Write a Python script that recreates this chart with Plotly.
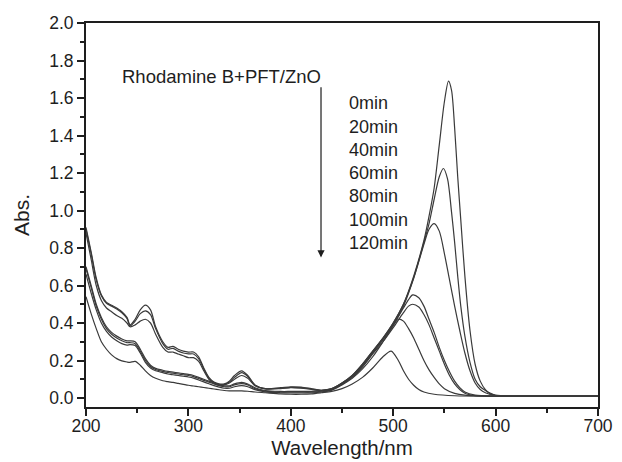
import plotly.graph_objects as go

# ---------------- data ----------------
times = ["0min", "20min", "40min", "60min", "80min", "100min", "120min"]

# shared UV part of the wavelength grid (nm)
wl_uv = [200, 205, 210, 215, 220, 225, 230, 235, 240, 243, 248, 253, 258, 263, 268,
         275, 280, 285, 290, 295, 300, 305, 310, 315, 320, 325, 330, 335, 340, 345,
         352, 358, 365, 375, 390, 400, 410, 420, 430]

abs_uv_0 = [0.91, 0.78, 0.64, 0.55, 0.51, 0.495, 0.48, 0.46, 0.43, 0.39, 0.42, 0.47, 0.495, 0.47, 0.38,
            0.30, 0.27, 0.275, 0.26, 0.25, 0.245, 0.245, 0.22, 0.16, 0.11, 0.085, 0.075, 0.075, 0.09, 0.12,
            0.145, 0.12, 0.07, 0.05, 0.055, 0.06, 0.058, 0.05, 0.042]
abs_uv_20 = [0.90, 0.77, 0.63, 0.545, 0.505, 0.49, 0.475, 0.455, 0.425, 0.385, 0.41, 0.45, 0.465, 0.445, 0.37,
             0.29, 0.26, 0.265, 0.25, 0.24, 0.235, 0.235, 0.21, 0.155, 0.105, 0.082, 0.072, 0.072, 0.085, 0.11,
             0.135, 0.115, 0.068, 0.05, 0.052, 0.057, 0.055, 0.048, 0.04]
abs_uv_40 = [0.88, 0.74, 0.60, 0.52, 0.48, 0.46, 0.44, 0.425, 0.40, 0.38, 0.39, 0.41, 0.42, 0.40, 0.34,
             0.27, 0.245, 0.245, 0.235, 0.225, 0.215, 0.215, 0.195, 0.145, 0.10, 0.08, 0.07, 0.07, 0.08, 0.10,
             0.12, 0.105, 0.065, 0.048, 0.05, 0.055, 0.052, 0.046, 0.04]
abs_uv_60 = [0.70, 0.60, 0.50, 0.43, 0.38, 0.35, 0.33, 0.315, 0.305, 0.305, 0.30, 0.26, 0.21, 0.175, 0.158,
             0.148, 0.142, 0.138, 0.134, 0.13, 0.126, 0.12, 0.11, 0.10, 0.09, 0.08, 0.07, 0.065, 0.065, 0.075,
             0.083, 0.075, 0.055, 0.04, 0.035, 0.035, 0.035, 0.035, 0.038]
abs_uv_80 = [0.69, 0.59, 0.49, 0.42, 0.37, 0.34, 0.32, 0.305, 0.295, 0.295, 0.29, 0.25, 0.20, 0.168, 0.152,
             0.142, 0.136, 0.132, 0.128, 0.124, 0.12, 0.114, 0.104, 0.094, 0.085, 0.075, 0.066, 0.06, 0.06, 0.07,
             0.077, 0.07, 0.05, 0.037, 0.032, 0.032, 0.032, 0.032, 0.036]
abs_uv_100 = [0.66, 0.56, 0.47, 0.40, 0.355, 0.325, 0.305, 0.29, 0.282, 0.285, 0.28, 0.24, 0.19, 0.16, 0.145,
              0.135, 0.128, 0.124, 0.12, 0.116, 0.112, 0.106, 0.096, 0.086, 0.076, 0.066, 0.058, 0.052, 0.052, 0.06,
              0.066, 0.06, 0.045, 0.033, 0.028, 0.027, 0.027, 0.028, 0.032]
abs_uv_120 = [0.54, 0.45, 0.37, 0.30, 0.26, 0.23, 0.21, 0.198, 0.192, 0.19, 0.195, 0.175, 0.145, 0.12, 0.105,
              0.092, 0.087, 0.083, 0.078, 0.073, 0.068, 0.064, 0.06, 0.056, 0.052, 0.048, 0.044, 0.04, 0.038, 0.038,
              0.038, 0.036, 0.032, 0.028, 0.022, 0.02, 0.02, 0.022, 0.028]

# visible part, per series
wl_vis_0 = [440, 450, 460, 470, 480, 490, 500, 510, 520, 530, 535, 540, 545, 550, 554, 557, 560, 563, 566, 570,
            575, 580, 585, 590, 595, 600, 620, 650, 700]
abs_vis_0 = [0.05, 0.08, 0.12, 0.18, 0.25, 0.32, 0.40, 0.50, 0.65, 0.84, 0.97, 1.12, 1.35, 1.58, 1.69, 1.64, 1.44,
             1.18, 0.95, 0.65, 0.36, 0.18, 0.09, 0.045, 0.022, 0.013, 0.01, 0.01, 0.01]

wl_vis_20 = [440, 450, 460, 470, 480, 490, 500, 510, 520, 530, 535, 540, 545, 549, 553, 557, 560, 563, 566, 570,
             575, 580, 585, 590, 595, 600, 620, 650, 700]
abs_vis_20 = [0.048, 0.078, 0.118, 0.175, 0.245, 0.315, 0.39, 0.49, 0.64, 0.83, 0.93, 1.06, 1.18, 1.224, 1.17,
              0.99, 0.83, 0.65, 0.49, 0.33, 0.19, 0.10, 0.06, 0.04, 0.025, 0.015, 0.01, 0.01, 0.01]

wl_vis_40 = [440, 450, 460, 470, 480, 490, 500, 510, 520, 530, 535, 540, 545, 550, 555, 560, 565, 570, 575, 580,
             585, 590, 600, 620, 650, 700]
abs_vis_40 = [0.05, 0.08, 0.12, 0.18, 0.25, 0.32, 0.40, 0.50, 0.64, 0.82, 0.90, 0.93, 0.89, 0.77, 0.63, 0.49, 0.36,
              0.24, 0.145, 0.08, 0.045, 0.028, 0.013, 0.01, 0.01, 0.01]

wl_vis_60 = [440, 450, 460, 470, 480, 490, 500, 510, 515, 519, 525, 530, 535, 540, 545, 550, 555, 560,
             565, 570, 580, 600, 650, 700]
abs_vis_60 = [0.045, 0.075, 0.115, 0.17, 0.24, 0.31, 0.39, 0.48, 0.525, 0.55, 0.535, 0.49, 0.42, 0.35, 0.27, 0.20,
              0.14, 0.09, 0.055, 0.032, 0.015, 0.01, 0.01, 0.01]

wl_vis_80 = [440, 450, 460, 470, 480, 490, 500, 510, 515, 519, 525, 530, 535, 540, 545, 550, 555, 560,
             565, 570, 580, 600, 650, 700]
abs_vis_80 = [0.045, 0.073, 0.11, 0.165, 0.235, 0.30, 0.375, 0.455, 0.49, 0.50, 0.485, 0.445, 0.39, 0.32, 0.25,
              0.18, 0.12, 0.075, 0.045, 0.025, 0.012, 0.01, 0.01, 0.01]

wl_vis_100 = [440, 450, 460, 470, 480, 490, 500, 505, 510, 515, 520, 525, 530, 535, 540, 545, 550, 560, 570,
              600, 650, 700]
abs_vis_100 = [0.042, 0.07, 0.105, 0.155, 0.22, 0.30, 0.385, 0.42, 0.41, 0.37, 0.32, 0.26, 0.20, 0.15, 0.11,
               0.075, 0.05, 0.025, 0.015, 0.01, 0.01, 0.01]

wl_vis_120 = [440, 450, 460, 470, 480, 490, 498, 505, 510, 515, 520, 525, 530, 540, 560, 600, 650, 700]
abs_vis_120 = [0.035, 0.05, 0.075, 0.11, 0.16, 0.22, 0.25, 0.20, 0.145, 0.10, 0.068, 0.045, 0.032, 0.02, 0.012,
               0.01, 0.01, 0.01]

sample_label = "Rhodamine B+PFT/ZnO"
x_title = "Wavelength/nm"
y_title = "Abs."

# ---------------- figure ----------------
series = [
    (abs_uv_0, wl_vis_0, abs_vis_0),
    (abs_uv_20, wl_vis_20, abs_vis_20),
    (abs_uv_40, wl_vis_40, abs_vis_40),
    (abs_uv_60, wl_vis_60, abs_vis_60),
    (abs_uv_80, wl_vis_80, abs_vis_80),
    (abs_uv_100, wl_vis_100, abs_vis_100),
    (abs_uv_120, wl_vis_120, abs_vis_120),
]

FONT = "Liberation Sans, Arial, sans-serif"
INK = "#1e1e1e"

fig = go.Figure()
for name, (a_uv, w_vis, a_vis) in zip(times, series):
    fig.add_trace(go.Scatter(
        x=wl_uv + w_vis, y=a_uv + a_vis, name=name, mode="lines",
        line=dict(color="#3a3a3a", width=1.2, shape="spline", smoothing=0.8),
        showlegend=False, hoverinfo="skip"))

# sample label and arrow
fig.add_annotation(x=431, y=1.716, xref="x", yref="y", text=sample_label, showarrow=False,
                   xanchor="right", yanchor="middle", font=dict(family=FONT, size=18.5, color=INK))
fig.add_annotation(x=429.5, y=0.75, ax=429.5, ay=1.665, xref="x", yref="y", axref="x", ayref="y",
                   text="", showarrow=True, arrowhead=2, arrowsize=1.2, arrowwidth=1.2, arrowcolor=INK)

# time labels, one per line
for i, t in enumerate(times):
    fig.add_annotation(x=454.5, y=1.571 - i * 0.124, xref="x", yref="y", text=t, showarrow=False,
                       xanchor="left", yanchor="middle", font=dict(family=FONT, size=18, color=INK))

axis_common = dict(showgrid=False, zeroline=False, showline=True, linewidth=2, linecolor=INK,
                   mirror=True, ticks="outside", ticklen=7, tickwidth=1.5, tickcolor=INK,
                   automargin=False,
                   tickfont=dict(family=FONT, size=17.5, color=INK))

fig.update_xaxes(range=[200, 700], tickmode="linear", tick0=200, dtick=100, ticklabelstandoff=-5,
                 minor=dict(ticks="outside", ticklen=4, tickwidth=1.5, tickcolor=INK, dtick=50, showgrid=False),
                 title=dict(text=x_title, font=dict(family=FONT, size=20.5, color=INK), standoff=4),
                 **axis_common)
fig.update_yaxes(range=[-0.048, 2.0], tickmode="linear", tick0=0, dtick=0.2, tickformat=".1f",
                 minor=dict(ticks="outside", ticklen=4, tickwidth=1.5, tickcolor=INK, dtick=0.1, showgrid=False),
                 title=dict(text=y_title, font=dict(family=FONT, size=21, color=INK), standoff=14),
                 **axis_common)

fig.update_layout(width=622, height=462, margin=dict(l=86, r=24, t=23, b=55),
                  paper_bgcolor="white", plot_bgcolor="white",
                  font=dict(family=FONT, color=INK))

# remove the browser's default 8px page margin so the 622x462 figure fills the window exactly
fig.write_html("out.html", config={"displayModeBar": False},
               post_script="document.body.style.margin='0px';document.body.style.overflow='hidden';")
